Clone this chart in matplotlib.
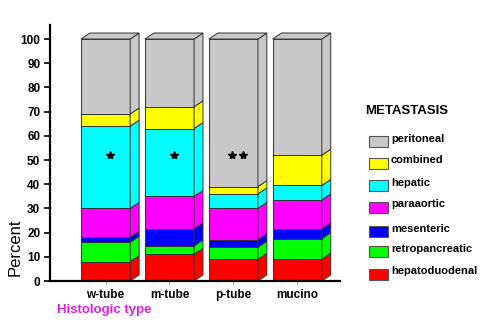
import matplotlib
matplotlib.use("Agg")
import matplotlib.pyplot as plt
from matplotlib.patches import Polygon, Rectangle
import numpy as np

plt.rcParams['font.family'] = ['Liberation Sans', 'DejaVu Sans']

# Histologic types on the x axis
types = ["w-tube", "m-tube", "p-tube", "mucino"]

# Metastasis categories, bottom to top of each stack
categories = ["hepatoduodenal", "retropancreatic", "mesenteric", "paraaortic",
              "hepatic", "combined", "peritoneal"]
colors = ["#FF0000", "#00FF00", "#0000FF", "#FF00FF",
          "#00FFFF", "#FFFF00", "#C8C8C8"]

# Percent per category for each type (same order as categories)
w_tube = [8, 8, 2, 12, 34, 5, 31]
m_tube = [11, 3.5, 7, 13.5, 28, 9, 28]
p_tube = [9, 5, 3, 13, 6, 3, 61]
mucino = [9, 8.5, 4, 12, 6, 12.5, 48]
series = [w_tube, m_tube, p_tube, mucino]

# Number of significance stars on each bar
stars = [1, 1, 2, 0]
star_level = 52

yticks = list(range(0, 101, 10))

fig = plt.figure(figsize=(5.0, 3.32), dpi=100)
ax = fig.add_axes([0.1, 0.1536, 0.58, 0.771])

width = 0.77
dx, dy = 0.14, 2.5
edge = "#333333"
lw = 0.7
x = np.arange(len(types))

for i, vals in enumerate(series):
    bottoms = np.concatenate([[0], np.cumsum(vals)[:-1]])
    x0 = x[i] - width / 2
    for v, b, c in zip(vals, bottoms, colors):
        ax.bar(x[i], v, bottom=b, width=width, color=c, edgecolor=edge,
               linewidth=lw, zorder=2)
        side = [(x0 + width, b), (x0 + width + dx, b + dy),
                (x0 + width + dx, b + v + dy), (x0 + width, b + v)]
        ax.add_patch(Polygon(side, closed=True, facecolor=c, edgecolor=edge,
                             linewidth=lw, zorder=2))
    total = float(np.sum(vals))
    top = [(x0, total), (x0 + dx, total + dy),
           (x0 + width + dx, total + dy), (x0 + width, total)]
    ax.add_patch(Polygon(top, closed=True, facecolor=colors[-1], edgecolor=edge,
                         linewidth=lw, zorder=2))
    n = stars[i]
    if n:
        sx = x[i] + 0.07 + (np.arange(n) - (n - 1) / 2) * 0.175
        ax.plot(sx, [star_level] * n, linestyle="none", marker="*",
                markersize=6, color="black", zorder=3)

ax.set_xlim(-0.87, 3.67)
ax.set_ylim(0, 105.8)
ax.set_yticks(yticks)
ax.set_yticklabels([str(t) for t in yticks], fontsize=8.5, fontweight="bold")
ax.set_xticks(x)
ax.set_xticklabels(types, fontsize=8.5, fontweight="bold")
ax.tick_params(axis="y", length=4, width=1.2, pad=3)
ax.tick_params(axis="x", length=2, width=0.6, pad=4, color="#888888")
for s in ["top", "right"]:
    ax.spines[s].set_visible(False)
for s in ["left", "bottom"]:
    ax.spines[s].set_linewidth(1.6)
ax.patch.set_alpha(0)

fig.text(0.03, 0.2545, "Percent", rotation=90, ha="center", va="center",
         fontsize=12)
fig.text(0.114, 0.066, "Histologic type", ha="left", va="center",
         fontsize=9.5, fontweight="bold", color="#E020E0")

# Legend drawn top to bottom
fig.text(0.731, 0.667, "METASTASIS", ha="left", va="center",
         fontsize=9.5, fontweight="bold")
row_y = [141.7, 163.3, 185.7, 207.3, 231.7, 251.7, 274.0]
for name, c, yy in zip(categories[::-1], colors[::-1], row_y):
    fy = (332 - yy) / 332
    fig.patches.append(Rectangle((369 / 500, fy - 5.5 / 332), 19 / 500, 11 / 332,
                                 transform=fig.transFigure, facecolor=c,
                                 edgecolor="#555555", linewidth=0.8))
    fig.text(391 / 500, fy + 3 / 332, name, ha="left", va="center",
             fontsize=8, fontweight="bold")

fig.savefig("out.png", dpi=100)
